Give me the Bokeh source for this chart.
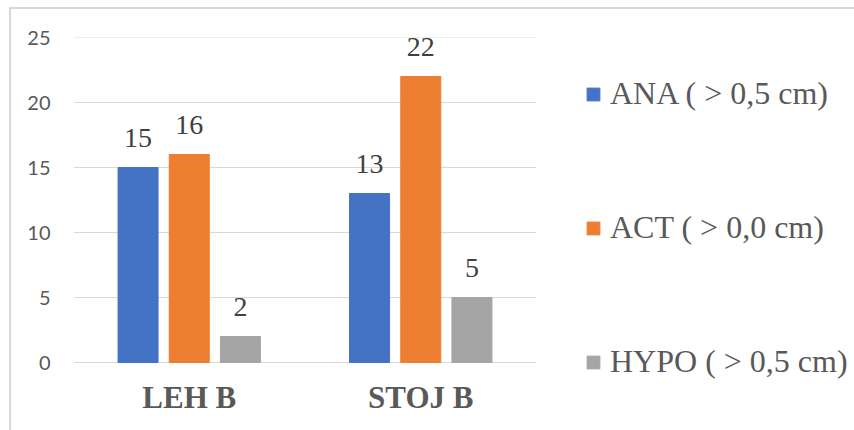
from bokeh.plotting import figure
from bokeh.models import ColumnDataSource, Legend, LegendItem, Range1d, FixedTicker
from bokeh.core.properties import value
from bokeh.embed import file_html
from bokeh.resources import INLINE

# Chart data
groups = ["LEH B", "STOJ B"]
series = ["ANA ( > 0,5 cm)", "ACT ( > 0,0 cm)", "HYPO ( > 0,5 cm)"]
ana = [15, 13]
act = [16, 22]
hypo = [2, 5]
y_ticks = [0, 5, 10, 15, 20, 25]

colors = ["#4472C4", "#ED7D31", "#A5A5A5"]
columns = ["ana", "act", "hypo"]

# Layout in pixels
fig_w, fig_h = 845, 423
frame_left, frame_top = 62, 28
slot_px = 231.5            # width of one category slot
unit_px = 13.0             # pixels per y unit
below_zero_px = 18         # room under the baseline for the last legend entry
frame_w = fig_w - frame_left
frame_h = 25 * unit_px + below_zero_px
x_end = frame_w / slot_px
y_start = -below_zero_px / unit_px

centers = [i + 0.5 for i in range(len(groups))]
bar_w = 40 / slot_px
step = 51.2 / slot_px
offsets = [-step, 0.0, step]

src = ColumnDataSource(dict(
    center=centers,
    ana=ana, act=act, hypo=hypo,
    ana_lbl=[str(v) for v in ana],
    act_lbl=[str(v) for v in act],
    hypo_lbl=[str(v) for v in hypo],
))

p = figure(
    x_range=Range1d(0, x_end),
    y_range=Range1d(y_start, 25),
    width=fig_w, height=fig_h,
    min_border_left=frame_left, min_border_right=0,
    min_border_top=frame_top,
    min_border_bottom=int(fig_h - frame_top - frame_h),
    output_backend="svg", toolbar_location=None,
)
p.styles = {
    "margin-left": "9px", "margin-top": "7px", "margin-bottom": "-20px",
    "border-left": "2px solid #d9d9d9", "border-top": "2px solid #d9d9d9",
    "overflow": "hidden",
}
p.outline_line_color = None
p.background_fill_color = "white"
p.border_fill_color = "white"

# Horizontal gridlines spanning the category area only
p.segment(x0=0, x1=len(groups), y0=y_ticks, y1=y_ticks,
          line_color="#d9d9d9", line_width=1)

renderers = []
for col, off, c in zip(columns, offsets, colors):
    xs = [x + off for x in centers]
    r = p.vbar(x=xs, top=src.data[col], width=bar_w,
               fill_color=c, line_color=c)
    renderers.append(r)
    p.text(x=xs, y=src.data[col], text=src.data[col + "_lbl"],
           text_align="center", text_baseline="alphabetic",
           y_offset=-30, text_font=value("Liberation Serif"),
           text_font_size="28px", text_color="#404040")

# Axes
p.yaxis.ticker = FixedTicker(ticks=y_ticks)
p.yaxis.axis_line_color = None
p.yaxis.major_tick_line_color = None
p.yaxis.minor_tick_line_color = None
p.yaxis.major_tick_out = 0
p.yaxis.major_label_standoff = 23
p.yaxis.major_label_text_font = "Lato"
p.yaxis.major_label_text_font_size = "20px"
p.yaxis.major_label_text_color = "#595959"

p.xaxis.ticker = FixedTicker(ticks=centers)
p.xaxis.major_label_overrides = {c: g for c, g in zip(centers, groups)}
p.xaxis.axis_line_color = None
p.xaxis.major_tick_line_color = None
p.xaxis.minor_tick_line_color = None
p.xaxis.major_tick_out = 0
p.xaxis.major_label_standoff = 17 - below_zero_px
p.xaxis.major_label_text_font = "Liberation Serif"
p.xaxis.major_label_text_font_style = "bold"
p.xaxis.major_label_text_font_size = "31px"
p.xaxis.major_label_text_color = "#595959"

p.xgrid.grid_line_color = None
p.ygrid.grid_line_color = None

legend = Legend(
    items=[LegendItem(label=s, renderers=[r]) for s, r in zip(series, renderers)],
    location=(512, below_zero_px - 18),
    glyph_width=16, glyph_height=16, label_standoff=9,
    label_text_font="Liberation Serif", label_text_font_size="32px",
    label_text_color="#595959", label_height=36,
    spacing=97, padding=0, margin=0,
    border_line_color=None, background_fill_alpha=0,
)
p.add_layout(legend, "center")

open("out.html", "w").write(file_html(p, INLINE))
